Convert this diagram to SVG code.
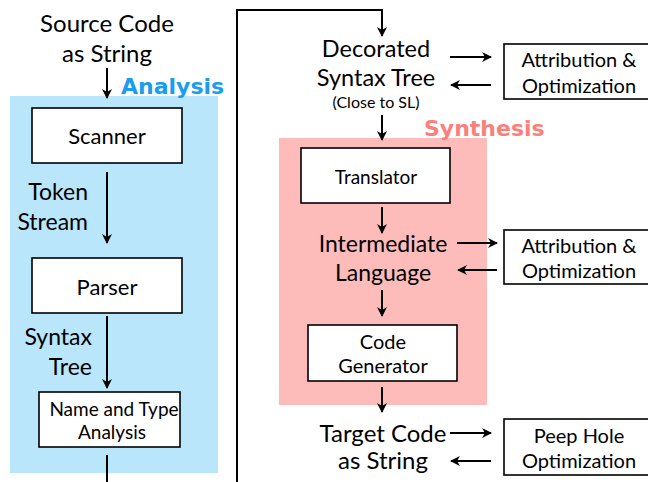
<svg xmlns="http://www.w3.org/2000/svg" width="648" height="482" viewBox="0 0 648 482">
<defs>
<style>
text{font-family:Lato,"Noto Sans",sans-serif;fill:#000}
.big{font-size:23.5px;text-anchor:middle}
.mid{font-size:20px;text-anchor:middle}
.sm{font-size:19px;text-anchor:middle}
.lbl{font-size:23px;text-anchor:end}
.hd{font-family:"DejaVu Sans",sans-serif;font-size:22px;font-weight:bold}
.box{fill:#fff;stroke:#000;stroke-width:1.6}
.ln{fill:none;stroke:#000;stroke-width:2;marker-end:url(#ah)}
.pl{fill:none;stroke:#000;stroke-width:2}
</style>
<marker id="ah" viewBox="0 0 10 10" refX="9" refY="5" markerWidth="5" markerHeight="5" orient="auto" markerUnits="strokeWidth">
<path d="M0,0 L10,5 L0,10 L3,5 Z" fill="#000"/>
</marker>
</defs>
<rect x="0" y="0" width="648" height="482" fill="#fff"/>
<g id="analysis-region">
<rect x="10" y="96" width="208" height="377" fill="#b9e6fb"/>
<text class="hd" x="121" y="94" style="fill:#1a9cf0">Analysis</text>
</g>
<g id="synthesis-region">
<rect x="279" y="138" width="208" height="267" fill="#fdbcba"/>
<text class="hd" x="424" y="136" style="fill:#fb7f7b">Synthesis</text>
</g>
<g id="connectors">
<path class="ln" d="M107,68 V98"/>
<path class="ln" d="M107,172 V243"/>
<path class="ln" d="M107,316 V388"/>
<path class="pl" d="M107,455 V482"/>
<path class="ln" d="M237,482 V10 H382 V36"/>
<path class="ln" d="M450,57 H491"/>
<path class="ln" d="M491,85 H451"/>
<path class="ln" d="M382,115 V140"/>
<path class="ln" d="M382,207 V233"/>
<path class="ln" d="M457,243 H497"/>
<path class="ln" d="M497,270 H458"/>
<path class="ln" d="M382,290 V316"/>
<path class="ln" d="M382,387 V412"/>
<path class="ln" d="M450,433 H491"/>
<path class="ln" d="M491,461 H451"/>
</g>
<g id="source">
<text class="big" x="107" y="32" style="font-size:24px">Source Code</text>
<text class="big" x="107" y="62" style="font-size:24px">as String</text>
</g>
<g id="scanner">
<rect class="box" x="32" y="108" width="150" height="55"/>
<text class="mid" x="107" y="144" style="font-size:22px">Scanner</text>
</g>
<g id="token-stream">
<text class="lbl" x="88" y="200">Token</text>
<text class="lbl" x="88" y="230">Stream</text>
</g>
<g id="parser">
<rect class="box" x="32" y="258" width="150" height="55"/>
<text class="mid" x="107" y="295" style="font-size:22px">Parser</text>
</g>
<g id="syntax-tree">
<text class="lbl" x="92" y="345">Syntax</text>
<text class="lbl" x="92" y="375">Tree</text>
</g>
<g id="name-type">
<rect class="box" x="39" y="392" width="141" height="55"/>
<text class="sm" x="114" y="416">Name and Type</text>
<text class="sm" x="112" y="439">Analysis</text>
</g>
<g id="decorated">
<text class="big" x="376" y="57">Decorated</text>
<text class="big" x="376" y="86">Syntax Tree</text>
<text x="376" y="108" style="font-size:16px;text-anchor:middle">(Close to SL)</text>
</g>
<g id="attr1">
<rect class="box" x="504" y="44" width="150" height="55"/>
<text class="mid" x="579" y="67">Attribution &amp;</text>
<text class="mid" x="579" y="93">Optimization</text>
</g>
<g id="translator">
<rect class="box" x="301" y="148" width="149" height="55"/>
<text class="sm" x="376" y="184">Translator</text>
</g>
<g id="intermediate">
<text class="big" x="383" y="252" style="font-size:23px">Intermediate</text>
<text class="big" x="383" y="281" style="font-size:23px">Language</text>
</g>
<g id="attr2">
<rect class="box" x="504" y="230" width="150" height="54"/>
<text class="mid" x="579" y="253">Attribution &amp;</text>
<text class="mid" x="579" y="278">Optimization</text>
</g>
<g id="codegen">
<rect class="box" x="308" y="325" width="149" height="56"/>
<text class="sm" x="383" y="349" style="font-size:20px">Code</text>
<text class="sm" x="383" y="373" style="font-size:20px">Generator</text>
</g>
<g id="target">
<text class="big" x="383" y="442" style="font-size:24px">Target Code</text>
<text class="big" x="383" y="469" style="font-size:24px">as String</text>
</g>
<g id="peephole">
<rect class="box" x="504" y="419" width="150" height="56"/>
<text class="mid" x="579" y="443">Peep Hole</text>
<text class="mid" x="579" y="468">Optimization</text>
</g>
</svg>
